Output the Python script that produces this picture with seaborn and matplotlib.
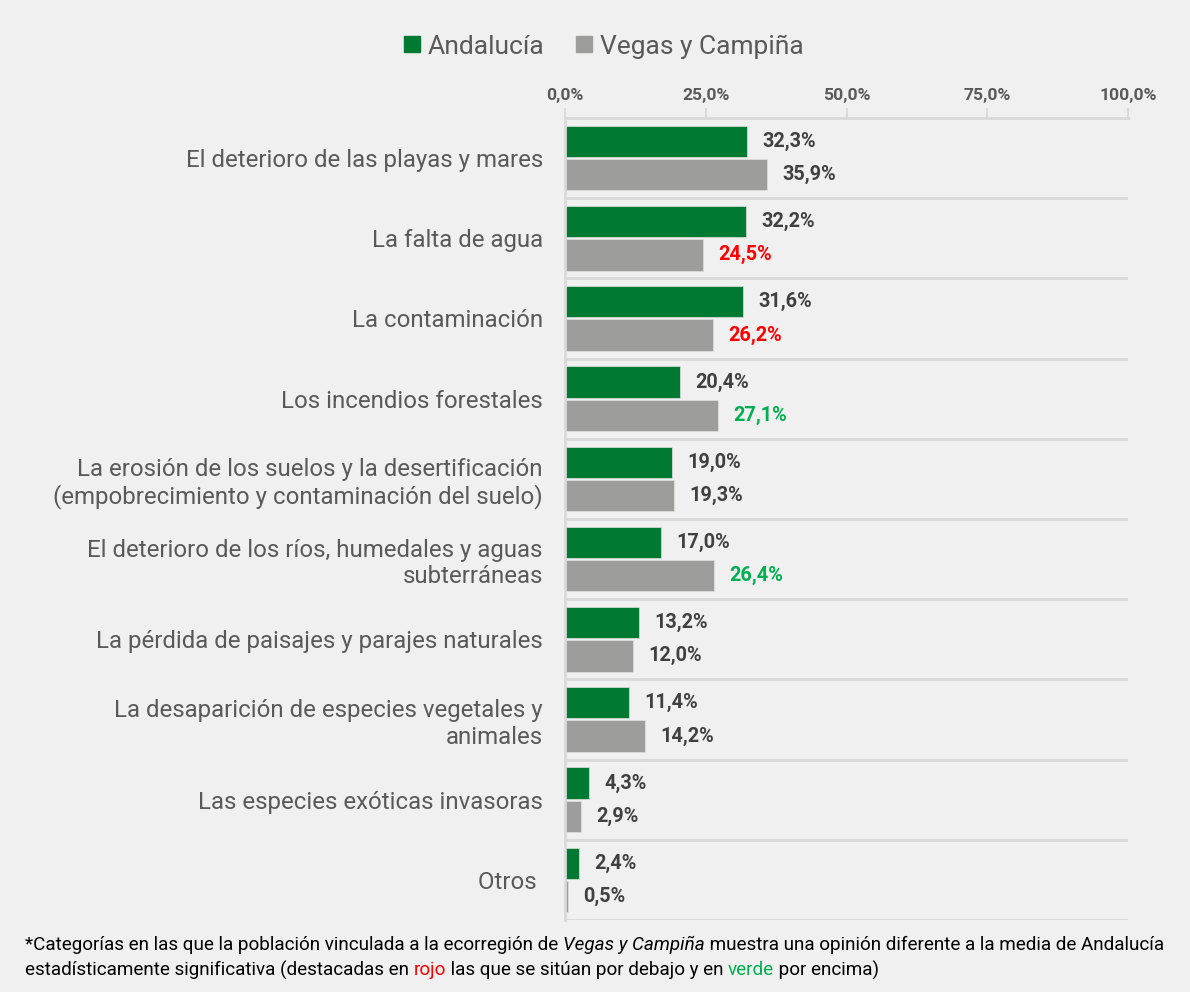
import pandas as pd
import matplotlib
matplotlib.use("Agg")
import matplotlib.pyplot as plt
from matplotlib.lines import Line2D
import seaborn as sns

categorias = [
    "El deterioro de las playas y mares",
    "La falta de agua",
    "La contaminación",
    "Los incendios forestales",
    "La erosión de los suelos y la desertificación\n(empobrecimiento y contaminación del suelo)",
    "El deterioro de los ríos, humedales y aguas\nsubterráneas",
    "La pérdida de paisajes y parajes naturales",
    "La desaparición de especies vegetales y\nanimales",
    "Las especies exóticas invasoras",
    "Otros ",
]
andalucia = [32.3, 32.2, 31.6, 20.4, 19.0, 17.0, 13.2, 11.4, 4.3, 2.4]
vegas = [35.9, 24.5, 26.2, 27.1, 19.3, 26.4, 12.0, 14.2, 2.9, 0.5]
# -1 = significativamente por debajo, 1 = por encima, 0 = sin diferencia
signif_vegas = [0, -1, -1, 1, 0, 1, 0, 0, 0, 0]
series = ["Andalucía", "Vegas y Campiña"]
ticks = [0, 25, 50, 75, 100]

BG = "#f0f0f0"
VERDE = "#007a33"
GRIS = "#9d9d9c"
TXT = "#595959"
VAL = "#404040"
ROJO = "#ff0000"
VERDE_TXT = "#00b050"
LINEA = "#d9d9d9"

sns.set_theme(style="white")
plt.rcParams["font.family"] = ["Roboto", "DejaVu Sans"]

df = pd.DataFrame({
    "cat": categorias * 2,
    "valor": andalucia + vegas,
    "serie": [series[0]] * len(categorias) + [series[1]] * len(categorias),
})

fig = plt.figure(figsize=(11.9, 9.92), dpi=100, facecolor=BG)
ax = fig.add_axes([0.4748, 0.0726, 0.4731, 0.8085])
ax.set_facecolor(BG)

sns.barplot(data=df, y="cat", x="valor", hue="serie", orient="h",
            palette=[VERDE, GRIS], saturation=1, width=0.83, gap=0.06, ax=ax,
            edgecolor="#e0e0e0", linewidth=0.5, legend=False)

ax.set_xlim(0, 100)
ax.set_ylim(len(categorias) - 0.5, -0.5)
ax.set_xlabel("")
ax.set_ylabel("")

# etiquetas de valor
colores_sig = {0: VAL, -1: ROJO, 1: VERDE_TXT}
for cont, vals, sig in zip(ax.containers, [andalucia, vegas],
                           [[0] * len(andalucia), signif_vegas]):
    labels = [f"{v:.1f}%".replace(".", ",") for v in vals]
    txts = ax.bar_label(cont, labels=labels, padding=11, fontsize=14.3,
                        fontweight="bold", color=VAL)
    for t, s in zip(txts, sig):
        t.set_color(colores_sig[s])

# eje superior
ax.xaxis.tick_top()
ax.set_xticks(ticks)
ax.set_xticklabels([f"{t:.1f}%".replace(".", ",") for t in ticks],
                   fontsize=12.6, fontweight="bold", color=TXT)
ax.tick_params(axis="x", length=7, width=1.5, color=LINEA, pad=4)
ax.tick_params(axis="y", length=0, pad=16, labelsize=17.3, labelcolor=TXT)
for lab in ax.get_yticklabels():
    lab.set_horizontalalignment("right")
    lab.set_multialignment("right")

for sp in ["right", "bottom"]:
    ax.spines[sp].set_visible(False)
for sp in ["left", "top"]:
    ax.spines[sp].set_color(LINEA)
    ax.spines[sp].set_linewidth(2)
for i in range(len(categorias)):
    ax.axhline(i + 0.5, color=LINEA, lw=2, zorder=0)

# leyenda
handles = [Line2D([], [], marker="s", ls="", markersize=12, color=c)
           for c in [VERDE, GRIS]]
fig.legend(handles, series, loc="center", bbox_to_anchor=(0.504, 0.953),
           ncol=2, frameon=False, fontsize=19, labelcolor=TXT,
           handletextpad=0.0, columnspacing=0.9, handlelength=1.2)

# nota al pie con partes de color y cursiva
def linea(piezas, x, y):
    fig.canvas.draw()
    r = fig.canvas.get_renderer()
    for texto, color, estilo in piezas:
        t = fig.text(x, y, texto, color=color, style=estilo, fontsize=13.55,
                     ha="left", va="center")
        bb = t.get_window_extent(renderer=r)
        x += bb.width / fig.bbox.width

linea([("*Categorías en las que la población vinculada a la ecorregión de ", "black", "normal"),
       ("Vegas y Campiña", "black", "italic"),
       (" muestra una opinión diferente a la media de Andalucía", "black", "normal")],
      0.021, 1 - 945 / 992)
linea([("estadísticamente significativa (destacadas en ", "black", "normal"),
       ("rojo", ROJO, "normal"),
       (" las que se sitúan por debajo y en ", "black", "normal"),
       ("verde", VERDE_TXT, "normal"),
       (" por encima)", "black", "normal")],
      0.021, 1 - 970 / 992)

fig.savefig("out.png", dpi=100, facecolor=BG)
